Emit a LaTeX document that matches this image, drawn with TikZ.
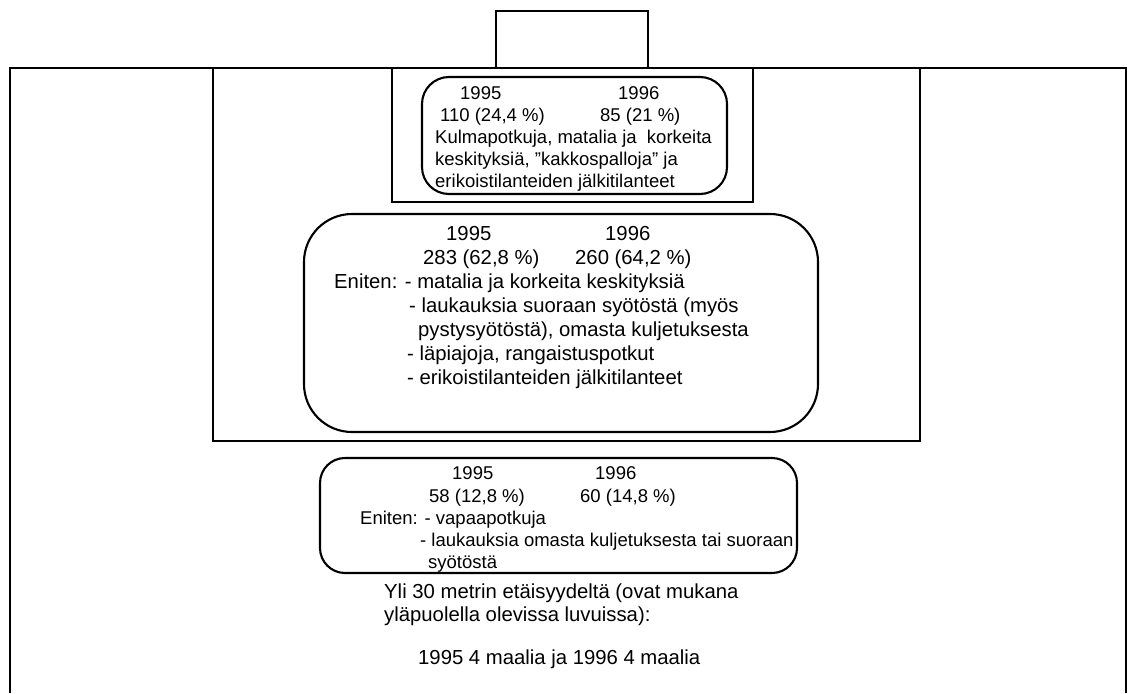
\documentclass[tikz,border=0pt]{standalone}
\usepackage{fontspec}
\setmainfont{Liberation Sans}
\begin{document}
\begin{tikzpicture}[x=1pt,y=-1pt,
  fieldline/.style={line width=1.9pt},
  zone/.style={draw, line width=2.1pt, rounded corners=#1, inner sep=0pt},
  bigtext/.style={font=\fontsize{20.3}{24}\selectfont, anchor=base west, inner sep=0pt},
  smalltext/.style={font=\fontsize{18.5}{22}\selectfont, anchor=base west, inner sep=0pt}]
\useasboundingbox (0,0) rectangle (1129,693);

% pitch: touch lines, goal line, penalty area, goal area, goal
\draw[fieldline] (10,693) -- (10,68) -- (1126,68) -- (1126,693);
\draw[fieldline] (213,68) rectangle (920,441);
\draw[fieldline] (392,68) rectangle (753,202);
\draw[fieldline] (496,68) -- (496,11) -- (648,11) -- (648,68);

% zone boxes
\node[zone=27pt, minimum width=305pt, minimum height=117pt] (near) at (574.5,135.5) {};
\node[zone=48pt, minimum width=514pt, minimum height=218pt] (mid) at (561,323) {};
\node[zone=25pt, minimum width=477pt, minimum height=115pt] (far) at (558.5,515.5) {};

% goal area texts
\node[smalltext] (n95) at (460,99) {1995};
\node[smalltext] (n96) at (618,99) {1996};
\node[smalltext] (nv95) at (440,121) {110 (24,4 \%)};
\node[smalltext] (nv96) at (600,121) {85 (21 \%)};
\node[smalltext] (nl1) at (435,143) {Kulmapotkuja, matalia ja\ \ korkeita};
\node[smalltext] (nl2) at (435,165) {keskityksiä, \symbol{34}kakkospalloja\symbol{34} ja};
\node[smalltext] (nl3) at (435,187) {erikoistilanteiden jälkitilanteet};

% penalty area texts
\node[bigtext] (m95) at (446,240) {1995};
\node[bigtext] (m96) at (605,240) {1996};
\node[bigtext] (mv95) at (423,264) {283 (62,8 \%)};
\node[bigtext] (mv96) at (575,264) {260 (64,2 \%)};
\node[bigtext] (ml1) at (334,288) {Eniten: - matalia ja korkeita keskityksiä};
\node[bigtext] (ml2) at (409,312) {- laukauksia suoraan syötöstä (myös};
\node[bigtext] (ml3) at (418,336) {pystysyötöstä), omasta kuljetuksesta};
\node[bigtext] (ml4) at (407,360) {- läpiajoja, rangaistuspotkut};
\node[bigtext] (ml5) at (407,384) {- erikoistilanteiden jälkitilanteet};

% outside the penalty area
\node[smalltext] (f95) at (452,479) {1995};
\node[smalltext] (f96) at (595,479) {1996};
\node[smalltext] (fv95) at (429,502) {58 (12,8 \%)};
\node[smalltext] (fv96) at (580,502) {60 (14,8 \%)};
\node[smalltext] (fl1) at (360,524) {Eniten: - vapaapotkuja};
\node[smalltext] (fl2) at (420,546) {- laukauksia omasta kuljetuksesta tai suoraan};
\node[smalltext] (fl3) at (428,568) {syötöstä};

% long-range goals
\node[bigtext] (l1) at (384,598) {Yli 30 metrin etäisyydeltä (ovat mukana};
\node[bigtext] (l2) at (384,621) {yläpuolella olevissa luvuissa):};
\node[bigtext] (l3) at (418,664) {1995 4 maalia ja 1996 4 maalia};
\end{tikzpicture}
\end{document}
